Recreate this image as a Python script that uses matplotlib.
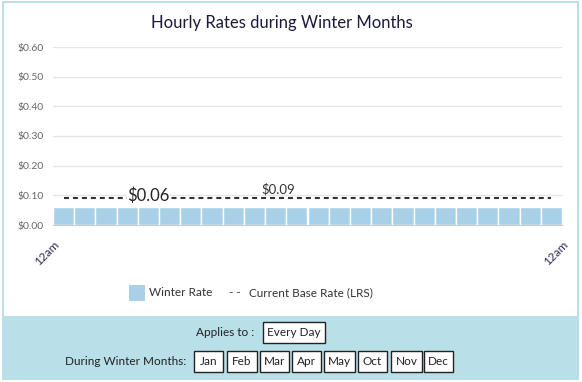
import numpy as np
import matplotlib.pyplot as plt
from matplotlib.patches import Rectangle

plt.rcParams['font.family'] = ['Lato', 'DejaVu Sans']

# data
hours = list(range(24))
winter_rate = [0.06] * 24
base_rate = [0.09] * 24
yticks = [0.0, 0.1, 0.2, 0.3, 0.4, 0.5, 0.6]
xtick_labels = ['12am', '12am']
months = ['Jan', 'Feb', 'Mar', 'Apr', 'May', 'Oct', 'Nov', 'Dec']

BAR_COLOR = '#a8d0e8'
PANEL_COLOR = '#b9dfe9'
W, H = 582, 382


def fx(px):
    return px / W


def fy(py):
    return 1 - py / H


def box(x0, y0, x1, y1):
    fig.patches.append(Rectangle((fx(x0), fy(y1)), fx(x1 - x0), (y1 - y0) / H,
                                 transform=fig.transFigure, facecolor='white',
                                 edgecolor='#222222', lw=1.0, zorder=3))


fig = plt.figure(figsize=(W / 100, H / 100), dpi=100)

# outer frame and bottom panel
fig.patches.append(Rectangle((fx(3), fy(379)), fx(575), 377 / H, transform=fig.transFigure,
                             facecolor='white', edgecolor='#add8e6', lw=1.2, zorder=0))
fig.patches.append(Rectangle((fx(3), fy(379)), fx(575), 63 / H, transform=fig.transFigure,
                             facecolor=PANEL_COLOR, edgecolor='none', zorder=1))

ax = fig.add_axes([fx(53), fy(225), fx(509), 178 / H])
ax.set_zorder(5)
ax.bar(np.array(hours) + 0.5, winter_rate, width=1.0, color=BAR_COLOR,
       edgecolor='white', linewidth=1.0, zorder=2)
ax.plot(np.array(hours) + 0.5, base_rate, color='#333333', linestyle=(0, (2.4, 1.9)),
        linewidth=1.5, zorder=3)

ax.text(4.5, winter_rate[4] + 0.012, '$%.2f' % winter_rate[4], ha='center', va='bottom',
        fontsize=12, color='#222222', zorder=4,
        bbox=dict(facecolor='white', edgecolor='none', pad=0.3))
ax.text(10.6, base_rate[10] + 0.01, '$%.2f' % base_rate[10], ha='center', va='bottom',
        fontsize=9.5, color='#333333', zorder=4)

ax.set_xlim(0, 24)
ax.set_ylim(0, 0.6)
ax.set_yticks(yticks)
ax.set_yticklabels(['$%.2f' % v for v in yticks], fontsize=7.5, color='#666666')
ax.set_xticks([0, 24])
ax.set_xticklabels(xtick_labels, rotation=45, ha='right', va='top', fontsize=8.5,
                   color='#2a2a55', rotation_mode='anchor')
ax.tick_params(length=0, pad=7)
ax.tick_params(axis='x', pad=10)
ax.grid(axis='y', color='#e6e6e6', linewidth=1.0, zorder=0)
ax.set_axisbelow(True)
for s in ['top', 'right', 'left']:
    ax.spines[s].set_visible(False)
ax.spines['bottom'].set_color('#cccccc')
ax.set_facecolor('none')

fig.text(fx(282), fy(23), 'Hourly Rates during Winter Months', ha='center', va='center',
         fontsize=12, color='#1a1a3a')

# legend
fig.patches.append(Rectangle((fx(129), fy(301)), fx(16), 16 / H, transform=fig.transFigure,
                             facecolor=BAR_COLOR, edgecolor='none', zorder=2))
fig.text(fx(149), fy(293), 'Winter Rate', ha='left', va='center', fontsize=8.5, color='#333333')
fig.text(fx(229), fy(293), '- -', ha='left', va='center', fontsize=8.5, color='#333333')
fig.text(fx(249), fy(293), 'Current Base Rate (LRS)', ha='left', va='center', fontsize=8.5,
         color='#333333')

# bottom panel
fig.text(fx(254), fy(332.5), 'Applies to :', ha='right', va='center', fontsize=8.5, color='#222222')
box(263, 322, 325, 343)
fig.text(fx(294), fy(332.5), 'Every Day', ha='center', va='center', fontsize=8.5,
         color='#222222', zorder=4)
fig.text(fx(186), fy(361.5), 'During Winter Months:', ha='right', va='center', fontsize=8.5,
         color='#222222')
month_x = [(194, 223), (227, 257), (260, 289), (292, 321), (324, 355), (358, 387),
           (391, 422), (424, 453)]
for (x0, x1), m in zip(month_x, months):
    box(x0, 351, x1, 372)
    fig.text(fx((x0 + x1) / 2), fy(361.5), m, ha='center', va='center', fontsize=8.5,
             color='#222222', zorder=4)

fig.savefig('out.png', dpi=100)
